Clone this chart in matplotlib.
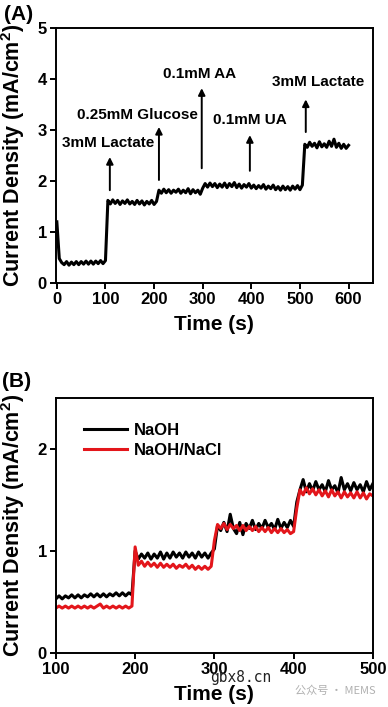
import matplotlib
matplotlib.use("Agg")
import matplotlib.pyplot as plt
import numpy as np

plt.rcParams['font.family'] = ['Liberation Sans', 'DejaVu Sans']
plt.rcParams['font.weight'] = 'bold'
plt.rcParams['mathtext.fontset'] = 'custom'
plt.rcParams['mathtext.rm'] = 'Liberation Sans:bold'
plt.rcParams['mathtext.bf'] = 'Liberation Sans:bold'

# --- Panel A: amperometric response, t = 0..600 s every 5 s ---
time_a = np.arange(0, 601, 5)
current_a = [
    1.20, 0.48, 0.40, 0.36, 0.42, 0.35, 0.41, 0.36, 0.42, 0.36, 0.42,
    0.37, 0.43, 0.37, 0.43, 0.37, 0.43, 0.38, 0.44, 0.38, 0.44,
    1.62, 1.55, 1.63, 1.56, 1.62, 1.54, 1.61, 1.56, 1.63, 1.55,
    1.60, 1.54, 1.62, 1.55, 1.61, 1.53, 1.60, 1.55, 1.62, 1.54, 1.60,
    1.82, 1.76, 1.84, 1.77, 1.83, 1.76, 1.82, 1.78, 1.84, 1.76,
    1.82, 1.77, 1.85, 1.75, 1.83, 1.77, 1.82, 1.74, 1.86,
    1.95, 1.88, 1.96, 1.89, 1.95, 1.87, 1.94, 1.88, 1.96, 1.87,
    1.95, 1.89, 1.97, 1.87, 1.94, 1.86, 1.93, 1.88, 1.95, 1.86,
    1.92, 1.85, 1.91, 1.86, 1.93, 1.84, 1.90, 1.85, 1.92, 1.83,
    1.89, 1.82, 1.90, 1.83, 1.89, 1.82, 1.90, 1.84, 1.91, 1.83, 1.92,
    2.72, 2.66, 2.76, 2.68, 2.74, 2.65, 2.77, 2.67, 2.73, 2.66,
    2.78, 2.68, 2.82, 2.66, 2.74, 2.64, 2.72, 2.64, 2.70,
]

# injections: label, arrow x, arrow start, arrow end, text x, text y
inj_labels = ['3mM Lactate', '0.25mM Glucose', '0.1mM AA', '0.1mM UA', '3mM Lactate']
inj_t = [109, 210, 298, 397, 512]
inj_y0 = [1.82, 2.02, 2.25, 2.20, 2.96]
inj_y1 = [2.47, 3.06, 3.82, 2.90, 3.60]
label_t = [105, 166, 293, 396, 538]
label_y = [2.75, 3.30, 4.10, 3.20, 3.95]

# --- Panel B: NaOH vs NaOH/NaCl, t = 100..500 s every 4 s ---
time_b = np.arange(100, 501, 4)
naoh = [
    0.53, 0.56, 0.53, 0.56, 0.54, 0.57, 0.54, 0.57, 0.54, 0.57, 0.55, 0.58, 0.55,
    0.58, 0.55, 0.58, 0.55, 0.58, 0.56, 0.59, 0.56, 0.59, 0.56, 0.59, 0.57,
    1.00, 0.92, 0.97, 0.93, 0.98, 0.92, 0.97, 0.93, 0.99, 0.92, 0.98, 0.93, 0.99,
    0.94, 0.98, 0.93, 0.99, 0.94, 0.98, 0.93, 0.99, 0.94, 0.98, 0.93, 0.98,
    1.02, 1.25, 1.20, 1.28, 1.19, 1.36, 1.22, 1.17, 1.28, 1.16, 1.27, 1.22, 1.30,
    1.21, 1.27, 1.22, 1.30, 1.23, 1.27, 1.21, 1.31, 1.22, 1.28, 1.23, 1.30, 1.24,
    1.48, 1.60, 1.70, 1.58, 1.66, 1.59, 1.68, 1.60, 1.65, 1.58, 1.69, 1.60, 1.64,
    1.57, 1.72, 1.60, 1.66, 1.59, 1.67, 1.60, 1.65, 1.58, 1.68, 1.60, 1.66,
]
naoh_nacl = [
    0.44, 0.46, 0.44, 0.46, 0.44, 0.46, 0.44, 0.46, 0.44, 0.46, 0.44, 0.46, 0.44,
    0.46, 0.48, 0.44, 0.46, 0.44, 0.46, 0.44, 0.46, 0.44, 0.46, 0.44, 0.46,
    1.04, 0.86, 0.90, 0.85, 0.89, 0.85, 0.88, 0.84, 0.88, 0.84, 0.87, 0.84, 0.87,
    0.83, 0.86, 0.84, 0.87, 0.83, 0.86, 0.82, 0.85, 0.82, 0.85, 0.82, 0.85,
    1.10, 1.26, 1.22, 1.27, 1.21, 1.26, 1.22, 1.25, 1.20, 1.25, 1.20, 1.24, 1.20,
    1.24, 1.19, 1.23, 1.19, 1.23, 1.18, 1.22, 1.18, 1.22, 1.18, 1.21, 1.17, 1.19,
    1.42, 1.60, 1.55, 1.62, 1.56, 1.61, 1.55, 1.60, 1.54, 1.59, 1.53, 1.60, 1.54,
    1.58, 1.52, 1.58, 1.53, 1.57, 1.52, 1.58, 1.52, 1.57, 1.51, 1.56, 1.54,
]

fig = plt.figure(figsize=(3.88, 7.07), dpi=100)
ax_a = fig.add_axes([0.144, 0.5997, 0.817, 0.3607])
ax_b = fig.add_axes([0.144, 0.0764, 0.817, 0.3607])

ylabel = r'Current Density (mA/cm$^{\mathbf{2}}$)'

def style_axes(ax):
    for s in ax.spines.values():
        s.set_linewidth(1.4)
    ax.tick_params(direction='out', length=4, width=1.4, labelsize=12, pad=2.5)
    for lab in ax.get_xticklabels() + ax.get_yticklabels():
        lab.set_fontweight('bold')
    ax.set_xlabel('Time (s)', fontsize=15, fontweight='bold')
    ax.xaxis.set_label_coords(0.5, -0.125)
    # y label placed by its centre, hugging the left edge of the figure
    ax.text(-0.136, 0.5, ylabel, transform=ax.transAxes, rotation=90,
            ha='center', va='center', fontsize=15.5, fontweight='bold')

# Panel A
ax_a.plot(time_a, current_a, color='black', lw=2.2)
for lab, t, y0, y1, lt, ly in zip(inj_labels, inj_t, inj_y0, inj_y1, label_t, label_y):
    ax_a.annotate('', xy=(t, y1), xytext=(t, y0),
                  arrowprops=dict(arrowstyle='-|>', color='black', lw=1.4,
                                  mutation_scale=10, shrinkA=0, shrinkB=0))
    ax_a.text(lt, ly, lab, ha='center', va='center', fontsize=11, fontweight='bold')
ax_a.set_xlim(-2, 650)
ax_a.set_ylim(0, 5)
ax_a.set_xticks(range(0, 601, 100))
ax_a.set_yticks(range(0, 6))
style_axes(ax_a)

# Panel B
ax_b.plot(time_b, naoh, color='black', lw=2.2, label='NaOH')
ax_b.plot(time_b, naoh_nacl, color='#e3161b', lw=2.2, label='NaOH/NaCl')
ax_b.set_xlim(100, 500)
ax_b.set_ylim(0, 2.5)
ax_b.set_xticks(range(100, 501, 100))
ax_b.set_yticks([0, 1, 2])
leg = ax_b.legend(loc='upper left', bbox_to_anchor=(0.04, 0.96), frameon=False,
                  fontsize=12, handlelength=2.6, handletextpad=0.4, labelspacing=0.3)
for t in leg.get_texts():
    t.set_fontweight('bold')
style_axes(ax_b)

fig.text(0.01, 0.979, '(A)', fontsize=15, fontweight='bold', va='center', ha='left')
fig.text(0.005, 0.46, '(B)', fontsize=15, fontweight='bold', va='center', ha='left')

# watermarks
fig.text(0.541, 0.0424, 'gbx8.cn', fontsize=10.5, family='DejaVu Sans Mono',
         fontweight='normal', color='#222222', va='center')
fig.text(0.76, 0.0226, '公众号 · MEMS', fontsize=8, fontweight='normal', color='#b0b0b0',
         family=['Noto Sans CJK SC', 'DejaVu Sans'], va='center')

fig.savefig('out.png', dpi=100)
